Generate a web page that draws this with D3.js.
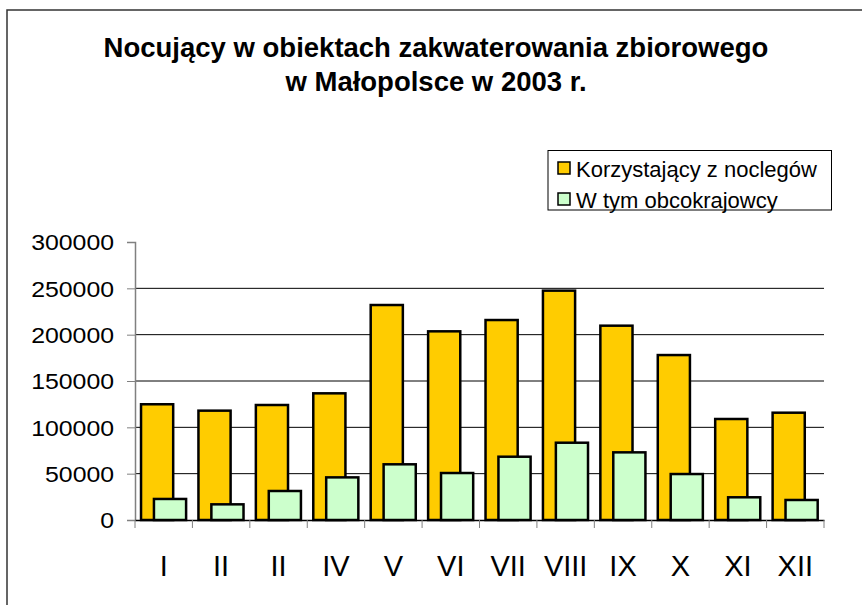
<!DOCTYPE html>
<html>
<head>
<meta charset="utf-8">
<script src="https://cdn.jsdelivr.net/npm/d3@7"></script>
<style>
	body { margin: 0; background: #fff; }
	text { font-family: "Liberation Sans", Arial, sans-serif; fill: #000; }
</style>
</head>
<body>
<svg id="chart"></svg>
<script>
/*=================
=== The data
=================*/
// months as printed on the original (yes, the third one says "II")
var noclegi = [
	{ m: 'I', total: 124900, foreign: 22700 },
	{ m: 'II', total: 118000, foreign: 16900 },
	{ m: 'II', total: 124100, foreign: 31300 },
	{ m: 'IV', total: 136700, foreign: 46000 },
	{ m: 'V', total: 232000, foreign: 60100 },
	{ m: 'VI', total: 203600, foreign: 50700 },
	{ m: 'VII', total: 215800, foreign: 68300 },
	{ m: 'VIII', total: 247500, foreign: 83400 },
	{ m: 'IX', total: 209700, foreign: 73000 },
	{ m: 'X', total: 178000, foreign: 49600 },
	{ m: 'XI', total: 109000, foreign: 24500 },
	{ m: 'XII', total: 115800, foreign: 21600 }
];

/*=================
=== The vars
=================*/
var winWidth = 862;
var winHeight = 605;

var svg = d3.select('#chart')
	.attr('width', winWidth)
	.attr('height', winHeight);

var x = d3.scaleBand().domain(d3.range(noclegi.length)).range([135, 824]).padding(0);
var y = d3.scaleLinear().domain([0, 300000]).range([520, 242]);

// chart frame
svg.append('rect')
	.attr('x', 7).attr('y', 10)
	.attr('width', 1000).attr('height', 1000)
	.attr('fill', 'none')
	.attr('stroke', '#333')
	.attr('stroke-width', 1.5);

// title
var title = svg.append('text')
	.attr('text-anchor', 'middle')
	.style('font-size', '27.5px')
	.style('font-weight', 'bold');
title.append('tspan').attr('x', 436).attr('y', 57).text('Nocujący w obiektach zakwaterowania zbiorowego');
title.append('tspan').attr('x', 436).attr('y', 91).text('w Małopolsce w 2003 r.');

// gridlines (none at the top value)
svg.append('g')
	.selectAll('line')
	.data(y.ticks(6).filter(function (d) { return d > 0 && d < 300000; }))
	.enter().append('line')
	.attr('x1', 135).attr('x2', 824)
	.attr('y1', function (d) { return y(d); })
	.attr('y2', function (d) { return y(d); })
	.attr('stroke', '#000')
	.attr('stroke-width', 1);

// bars
var bw = x.bandwidth();
var barsG = svg.append('g');

barsG.selectAll('.total')
	.data(noclegi)
	.enter().append('rect')
	.attr('class', 'total')
	.attr('x', function (d, i) { return x(i) + bw * 0.105; })
	.attr('width', bw * 0.56)
	.attr('y', function (d) { return y(d.total); })
	.attr('height', function (d) { return y(0) - y(d.total); })
	.attr('fill', '#FFCC00')
	.attr('stroke', '#000')
	.attr('stroke-width', 2.5);

barsG.selectAll('.foreign')
	.data(noclegi)
	.enter().append('rect')
	.attr('class', 'foreign')
	.attr('x', function (d, i) { return x(i) + bw * 0.33; })
	.attr('width', bw * 0.56)
	.attr('y', function (d) { return y(d.foreign); })
	.attr('height', function (d) { return y(0) - y(d.foreign); })
	.attr('fill', '#CCFFCC')
	.attr('stroke', '#000')
	.attr('stroke-width', 2.5);

// y axis
var yAxis = svg.append('g')
	.attr('transform', 'translate(135,0)')
	.call(d3.axisLeft(y).tickValues(d3.range(0, 300001, 50000)).tickSize(8).tickPadding(0).tickFormat(d3.format('d')));
yAxis.select('.domain').attr('stroke', '#808080').attr('stroke-width', 1.5);
yAxis.selectAll('.tick line').attr('stroke', '#808080');
yAxis.selectAll('.tick text')
	.attr('x', -18.5)
	.attr('dy', '0.36em')
	.style('font-size', '22px')
	.attr('transform', 'scale(1.13,1)');

// x axis
var xAxis = svg.append('g')
	.attr('transform', 'translate(0,520)')
	.call(d3.axisBottom(x).tickSize(0).tickFormat(function (i) { return noclegi[i].m; }));
xAxis.select('.domain').attr('stroke', '#000').attr('stroke-width', 1.5);
xAxis.selectAll('.tick text')
	.attr('y', 56)
	.attr('dy', 0)
	.style('font-size', '29px');

// tick marks at category boundaries
svg.append('g')
	.selectAll('line')
	.data(d3.range(noclegi.length + 1))
	.enter().append('line')
	.attr('x1', function (i) { return 135 + i * bw; })
	.attr('x2', function (i) { return 135 + i * bw; })
	.attr('y1', 520).attr('y2', 528)
	.attr('stroke', '#808080')
	.attr('stroke-width', 1);

/*=================
=== Legend
=================*/
var legend = svg.append('g');
legend.append('rect')
	.attr('x', 548).attr('y', 150.5)
	.attr('width', 283.5).attr('height', 59.5)
	.attr('fill', '#fff')
	.attr('stroke', '#000')
	.attr('stroke-width', 1);

var legItems = [
	{ label: 'Korzystający z noclegów', color: '#FFCC00' },
	{ label: 'W tym obcokrajowcy', color: '#CCFFCC' }
];

var legRow = legend.selectAll('.leg')
	.data(legItems)
	.enter().append('g')
	.attr('class', 'leg')
	.attr('transform', function (d, i) { return 'translate(0,' + (i * 31) + ')'; });

legRow.append('rect')
	.attr('x', 558).attr('y', 162)
	.attr('width', 12).attr('height', 12)
	.attr('fill', function (d) { return d.color; })
	.attr('stroke', '#000')
	.attr('stroke-width', 1.5);

legRow.append('text')
	.attr('x', 576).attr('y', 177)
	.style('font-size', '22px')
	.text(function (d) { return d.label; });
</script>
</body>
</html>
